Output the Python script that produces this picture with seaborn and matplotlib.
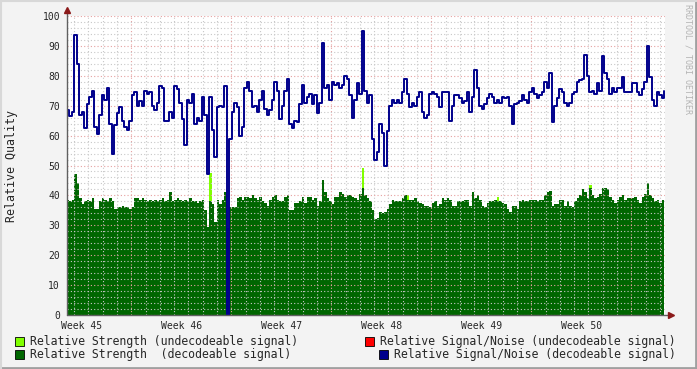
import numpy as np
import pandas as pd
import matplotlib
matplotlib.use("Agg")
import matplotlib.pyplot as plt
from matplotlib.patches import Rectangle
import seaborn as sns

# Relative Signal/Noise (decodeable), 40 steps per week
sn_w45 = [68.5, 66.5, 68, 93.5, 84, 67, 68, 62.5, 70.5, 73, 75, 63, 60.5, 67, 73.5, 72, 76, 64, 54, 63.5,
          67.5, 69.5, 65, 63, 62, 65, 73.5, 74.5, 70, 71.5, 70, 75, 74, 74.5, 70, 68.5, 71, 76.5, 76, 65]
sn_w46 = [65, 68, 66, 76.5, 75.5, 71, 65.5, 57, 72, 71, 74, 64, 66, 65, 73, 67, 47, 73, 62, 53,
          69.5, 70, 69.5, 76.5, 0, 59, 68, 71, 69.5, 60, 63, 76, 78, 75, 69.5, 70, 68, 72, 75, 69]
sn_w47 = [67, 68.5, 72, 78, 75, 65.5, 70, 75, 79, 64, 62.5, 65, 64.5, 70.5, 77, 71, 73, 74, 70.5, 73.5,
          67.5, 71, 91, 76, 77, 72, 78, 77, 77.5, 76, 77, 80, 79, 73.5, 66, 72, 77.5, 74, 95, 75]
sn_w48 = [71, 73.5, 59, 52, 54.5, 64, 61, 50, 61.5, 70, 72, 71, 72, 71, 74.5, 79, 74, 69.5, 71, 70,
          73, 74.5, 68, 66, 67, 74, 74.5, 74, 73, 69.5, 74.5, 74.5, 74.5, 65, 70, 73.5, 73.5, 72.5, 71, 71.5]
sn_w49 = [74.5, 68, 73, 82, 76, 70, 69, 70.5, 72.5, 74, 73, 71, 72, 71, 73, 72.5, 73, 70, 64, 70.5,
          71, 71.5, 73.5, 72, 71, 74.5, 76, 74, 72.5, 73.5, 74.5, 78, 76, 81, 64.5, 70, 72.5, 75.5, 74.5, 71]
sn_w50 = [70, 71, 74, 74.5, 78, 78.5, 79, 87, 80, 74.5, 75, 74, 77.5, 75, 86.5, 81, 79, 74, 76, 74.5,
          76, 76, 79.5, 74.5, 74.5, 74.5, 77.5, 77.5, 74.5, 73.5, 75.5, 78, 90, 79.5, 72, 70, 74.5, 73.5, 72.5, 75]

# Relative Strength (decodeable)
st_w45 = [38.5, 38, 38.5, 47, 44, 39, 37, 38, 38.5, 38, 39, 35.5, 35.5, 38, 39, 38.5, 38, 39, 38, 35.5,
          36, 36, 36.5, 36, 36, 35.5, 36, 39, 39, 38.5, 39, 38.5, 38, 38.5, 38, 38.5, 38, 38.5, 39, 38]
st_w46 = [38.5, 41, 38, 38.5, 39, 38.5, 38, 38.5, 38, 39, 38, 38, 37.5, 38, 38.5, 35, 29.5, 38, 37, 31,
          38.5, 37, 38.5, 41, 29, 36, 36, 36, 39, 39.5, 38.5, 39.5, 39.5, 39, 40, 39, 38.5, 39.5, 38, 37.5]
st_w47 = [36.5, 38.5, 39.5, 40, 38.5, 38, 38, 39.5, 40, 35, 35, 37.5, 37.5, 38, 39.5, 37.5, 39.5, 39.5, 38.5, 39,
          36.5, 38, 45, 41, 39, 38, 37, 39.5, 39.5, 41, 40.5, 39.5, 40, 40, 39.5, 39, 38.5, 40.5, 42.5, 40]
st_w48 = [39, 38, 35, 32, 32.5, 34.5, 34, 34.5, 35.5, 37, 38.5, 38, 38, 38, 39, 40, 38.5, 38.5, 38.5, 39,
          38, 37.5, 37, 36.5, 36.5, 36, 37.5, 38, 36.5, 37, 39, 38.5, 39, 38.5, 36.5, 36.5, 38, 38, 38, 38.5]
st_w49 = [38.5, 36.5, 41, 39, 40, 38.5, 36.5, 36, 37.5, 38, 38, 38.5, 38, 38, 37.5, 37, 35.5, 34.5, 36.5, 36.5,
          35.5, 38, 38.5, 38, 38, 38.5, 38.5, 38.5, 38, 38.5, 38.5, 40, 41, 41.5, 36.5, 37, 37, 38.5, 38.5, 36.5]
st_w50 = [38, 36.5, 36, 38, 39, 40, 42, 41, 39, 42.5, 40, 39, 39.5, 40.5, 42.5, 42.5, 42, 39.5, 38.5, 37.5,
          38.5, 39.5, 40, 38.5, 39, 39, 39, 39.5, 38.5, 37.5, 39.5, 40.5, 44, 40, 39, 38, 38.5, 37.5, 38.5, 38]

# Relative Strength (undecodeable) - only a few non-zero steps
weak_idx = [57, 118, 136, 172, 209]
weak_val = [47.5, 49, 40, 39.5, 43.5]

week_labels = ["Week 45", "Week 46", "Week 47", "Week 48", "Week 49", "Week 50"]

sn = sn_w45 + sn_w46 + sn_w47 + sn_w48 + sn_w49 + sn_w50
st = st_w45 + st_w46 + st_w47 + st_w48 + st_w49 + st_w50
weak = np.zeros(len(st))
weak[weak_idx] = weak_val

step = 0.175  # days per step
df = pd.DataFrame({"day": np.arange(len(sn)) * step, "sn": sn, "st": st, "weak": weak})

# colours
c_lime = "#80ff00"
c_green = "#006600"
c_red = "#ff0000"
c_blue = "#00008c"
c_bg = "#f3f3f3"

sns.set_style("white")
plt.rcParams["font.family"] = ["DejaVu Sans Mono"]

fig = plt.figure(figsize=(6.97, 3.69), dpi=100, facecolor=c_bg)
ax = fig.add_axes([67 / 697, 1 - 315 / 369, 598 / 697, 299 / 369])
ax.set_facecolor("white")

# areas
ax.fill_between(df["day"], 0, df["weak"], step="post", color=c_lime, lw=0, zorder=1)
ax.fill_between(df["day"], 0, df["st"], step="post", color=c_green, lw=0, zorder=1.2)

# signal/noise line
sns.lineplot(data=df, x="day", y="sn", ax=ax, color=c_blue, lw=1.4,
             drawstyle="steps-post", zorder=3, estimator=None)

ax.set_xlim(0, 598 / 14.2857)
ax.set_ylim(0, 100)

# grid
ax.set_yticks(np.arange(0, 101, 10))
ax.set_yticks(np.arange(0, 101, 2), minor=True)
ax.set_xticks(np.arange(4.5, 42, 7))
ax.set_xticks(np.arange(0.5, 42, 1), minor=True)
ax.set_xticklabels([])
ax.grid(which="minor", color="#c8c8c8", ls=(0, (1, 2)), lw=0.8, zorder=2)
ax.grid(which="major", color="#e6a0a0", ls=(0, (1, 2)), lw=0.8, zorder=2)
ax.set_axisbelow(False)

ax.tick_params(axis="y", which="major", length=2, color="#555555", labelsize=7, pad=3)
ax.tick_params(axis="y", which="minor", length=0)
ax.tick_params(axis="x", which="major", length=2, color="#c06060", direction="out")
ax.tick_params(axis="x", which="minor", length=2, color="#aaaaaa", direction="out")

# week labels
sec = ax.secondary_xaxis("bottom")
sec.set_xticks(np.arange(1, 42, 7), labels=week_labels)
sec.tick_params(length=0, labelsize=7, pad=4)
sec.spines["bottom"].set_visible(False)

for s in ax.spines.values():
    s.set_visible(False)
ax.plot([0, 0], [0, 1.02], transform=ax.transAxes, color="#606060", lw=1, clip_on=False, zorder=4)
ax.plot([0, 1.01], [0, 0], transform=ax.transAxes, color="#606060", lw=1, clip_on=False, zorder=4)
ax.plot([0], [1.02], marker="^", ms=4, color="#8b1a1a", transform=ax.transAxes, clip_on=False, zorder=5)
ax.plot([1.01], [0], marker=">", ms=4, color="#8b1a1a", transform=ax.transAxes, clip_on=False, zorder=5)

ax.set_xlabel("")
ax.set_ylabel("Relative Quality", fontsize=8.4)
ax.yaxis.set_label_coords(-0.082, 0.5)

# watermark
fig.text(688 / 697, 1 - 4 / 369, "RRDTOOL / TOBI OETIKER", rotation=270, ha="center", va="top",
         fontsize=6, color="#b4b4b4")

# legend
legend_items = [
    (15, 341.5, c_lime, "Relative Strength (undecodeable signal)"),
    (365, 341.5, c_red, "Relative Signal/Noise (undecodeable signal)"),
    (15, 354.5, c_green, "Relative Strength  (decodeable signal)"),
    (379, 354.5, c_blue, "Relative Signal/Noise (decodeable signal)"),
]
for x, y, col, label in legend_items:
    fig.patches.append(Rectangle((x / 697, 1 - (y + 4.5) / 369), 9 / 697, 9 / 369,
                                 transform=fig.transFigure, facecolor=col, edgecolor="black", lw=0.6))
    fig.text((x + 15) / 697, 1 - y / 369, label, ha="left", va="center", fontsize=8.3)

# frame
fig.add_artist(plt.Line2D([0, 1], [0.002, 0.002], transform=fig.transFigure, color="#a0a0a0", lw=2))
fig.add_artist(plt.Line2D([0.998, 0.998], [0, 1], transform=fig.transFigure, color="#a0a0a0", lw=2))
fig.add_artist(plt.Line2D([0, 1], [0.998, 0.998], transform=fig.transFigure, color="#d8d8d8", lw=1.5))
fig.add_artist(plt.Line2D([0.001, 0.001], [0, 1], transform=fig.transFigure, color="#d8d8d8", lw=1.5))

fig.savefig("out.png", dpi=100, facecolor=c_bg)
